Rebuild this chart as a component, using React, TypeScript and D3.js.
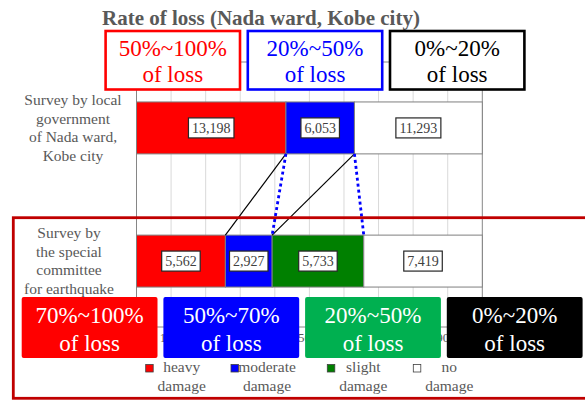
import React, { useRef, useEffect } from "react";
import * as d3 from "d3";

// chart data
const categories = ["local", "committee"];
const categoryLines = [
    ["Survey by local", "government", "of Nada ward,", "Kobe city"],
    ["Survey by", "the special", "committee", "for earthquake"],
];
const heavy = [13198, 5562];
const moderate = [6053, 2927];
const slight = [0, 5733];
const noDamage = [11293, 7419];
const seriesKeys = ["heavy", "moderate", "slight", "none"];
const seriesColors = ["#ff0000", "#0000ff", "#008000", "#ffffff"];
const legendLines = [
    ["heavy", "damage"],
    ["moderate", "damage"],
    ["slight", "damage"],
    ["no", "damage"],
];
const tickValues = [0, 0.1, 0.2, 0.3, 0.4, 0.5, 0.6, 0.7, 0.8, 0.9, 1];
const topBoxLabels = ["50%~100%", "20%~50%", "0%~20%"];
const topBoxColors = ["#ff0000", "#0000ff", "#000000"];
const bottomBoxLabels = ["70%~100%", "50%~70%", "20%~50%", "0%~20%"];
const bottomBoxColors = ["#ff0000", "#0000ff", "#00b050", "#000000"];

const FONT = "Liberation Serif, serif";

function App() {
    const ref = useRef(null);

    useEffect(() => {
        document.body.style.margin = "0";
        draw();
    }, []);

    const draw = () => {
        const svg = d3.select(ref.current);
        svg.selectAll("*").remove();

        let svgWidth = 585;
        let svgHeight = 400;
        let margin = { top: 62, right: 102.7, bottom: 73, left: 136.5 };
        let width = svgWidth - margin.left - margin.right;
        let height = svgHeight - margin.top - margin.bottom;

        let rows = categories.map((c, i) => ({
            cat: c,
            heavy: heavy[i],
            moderate: moderate[i],
            slight: slight[i],
            none: noDamage[i],
        }));
        let stacked = d3.stack().keys(seriesKeys).offset(d3.stackOffsetExpand)(rows);

        let x = d3.scaleLinear().domain([0, 1]).range([0, width]);
        let y = d3
            .scaleBand()
            .domain(categories)
            .range([0, height])
            .paddingInner(0.61)
            .paddingOuter(0.3);

        svg.append("rect")
            .attr("width", svgWidth)
            .attr("height", svgHeight)
            .attr("fill", "#ffffff");

        // title
        svg.append("text")
            .text("Rate of loss (Nada ward, Kobe city)")
            .attr("x", 261)
            .attr("y", 25)
            .attr("text-anchor", "middle")
            .attr("font-family", FONT)
            .attr("font-weight", "bold")
            .attr("font-size", "21px")
            .attr("fill", "#595959");

        let g = svg
            .append("g")
            .attr("transform", "translate(" + margin.left + "," + margin.top + ")");

        // gridlines
        g.append("g")
            .selectAll("line")
            .data(tickValues.slice(1, -1))
            .enter()
            .append("line")
            .attr("x1", (d) => x(d))
            .attr("x2", (d) => x(d))
            .attr("y1", 0)
            .attr("y2", height)
            .attr("stroke", "#d9d9d9")
            .attr("stroke-width", 1);

        g.append("rect")
            .attr("width", width)
            .attr("height", height)
            .attr("fill", "none")
            .attr("stroke", "#868686")
            .attr("stroke-width", 1);

        // x axis
        let xAxis = g
            .append("g")
            .attr("transform", "translate(0," + height + ")")
            .call(d3.axisBottom(x).tickValues(tickValues).tickFormat(d3.format(".0%")).tickSize(0).tickPadding(6));
        xAxis.select(".domain").remove();
        xAxis.selectAll("text")
            .attr("font-family", FONT)
            .attr("font-size", "13px")
            .attr("fill", "#595959");

        // category labels
        categoryLines.forEach((lines, i) => {
            let cy = y(categories[i]) + y.bandwidth() / 2;
            let t = svg
                .append("text")
                .attr("text-anchor", "middle")
                .attr("font-family", FONT)
                .attr("font-size", "15.5px")
                .attr("fill", "#595959");
            lines.forEach((line, j) => {
                t.append("tspan")
                    .attr("x", i === 0 ? 73 : 69)
                    .attr("y", margin.top + cy + (j - (lines.length - 1) / 2) * 18.5 + 5)
                    .text(line);
            });
        });

        // bars
        let layers = g
            .selectAll(".layer")
            .data(stacked)
            .enter()
            .append("g")
            .attr("fill", (d, i) => seriesColors[i]);

        layers
            .selectAll("rect")
            .data((d) => d.filter((s) => s[1] - s[0] > 0))
            .enter()
            .append("rect")
            .attr("x", (d) => x(d[0]))
            .attr("y", (d) => y(d.data.cat))
            .attr("width", (d) => x(d[1]) - x(d[0]))
            .attr("height", y.bandwidth())
            .attr("stroke", "#7f7f7f")
            .attr("stroke-width", 1);

        // connector lines between the two surveys
        let edge = (row, k) => x(stacked[k][row][1]);
        let y1 = y(categories[0]) + y.bandwidth();
        let y2 = y(categories[1]);
        let solid = [
            [edge(0, 0), edge(1, 0)],
            [edge(0, 1), edge(1, 1)],
        ];
        let dotted = [
            [edge(0, 0), edge(1, 1)],
            [edge(0, 1), edge(1, 2)],
        ];
        g.selectAll(".solid")
            .data(solid)
            .enter()
            .append("line")
            .attr("x1", (d) => d[0])
            .attr("x2", (d) => d[1])
            .attr("y1", y1)
            .attr("y2", y2)
            .attr("stroke", "#000000")
            .attr("stroke-width", 1.2);
        g.selectAll(".dotted")
            .data(dotted)
            .enter()
            .append("line")
            .attr("x1", (d) => d[0])
            .attr("x2", (d) => d[1])
            .attr("y1", y1)
            .attr("y2", y2)
            .attr("stroke", "#0000ff")
            .attr("stroke-width", 2.8)
            .attr("stroke-dasharray", "3,3");

        // value labels
        stacked.forEach((layer) => {
            layer.forEach((s) => {
                let v = s.data[layer.key];
                if (!v) return;
                let cx = x((s[0] + s[1]) / 2);
                let cy = y(s.data.cat) + y.bandwidth() / 2;
                let lg = g.append("g");
                let box = lg.append("rect");
                let t = lg
                    .append("text")
                    .text(d3.format(",")(v))
                    .attr("x", cx)
                    .attr("y", cy + 5)
                    .attr("text-anchor", "middle")
                    .attr("font-family", FONT)
                    .attr("font-size", "14px")
                    .attr("fill", "#404040");
                let w = t.node().getComputedTextLength();
                box.attr("x", cx - w / 2 - 3.5)
                    .attr("y", cy - 10)
                    .attr("width", w + 7)
                    .attr("height", 20)
                    .attr("fill", "#ffffff")
                    .attr("stroke", "#262626")
                    .attr("stroke-width", 1.2);
            });
        });

        // big frame around the committee survey
        svg.append("rect")
            .attr("x", 13.3)
            .attr("y", 217.7)
            .attr("width", 600)
            .attr("height", 180.6)
            .attr("fill", "none")
            .attr("stroke", "#c00000")
            .attr("stroke-width", 2.8);

        // top outlined boxes
        topBoxLabels.forEach((label, i) => {
            let bx = 105.6 + i * 142.2;
            svg.append("rect")
                .attr("x", bx)
                .attr("y", 31)
                .attr("width", 134.4)
                .attr("height", 58.5)
                .attr("fill", "#ffffff")
                .attr("stroke", topBoxColors[i])
                .attr("stroke-width", 2.6);
            [label, "of loss"].forEach((line, j) => {
                svg.append("text")
                    .text(line)
                    .attr("x", bx + 67.2)
                    .attr("y", 55.5 + j * 26.5)
                    .attr("text-anchor", "middle")
                    .attr("font-family", FONT)
                    .attr("font-size", "23px")
                    .attr("fill", topBoxColors[i]);
            });
        });

        // bottom filled boxes
        bottomBoxLabels.forEach((label, i) => {
            let bx = 21.7 + i * 141.7;
            svg.append("rect")
                .attr("x", bx)
                .attr("y", 297)
                .attr("width", 135.8)
                .attr("height", 61)
                .attr("rx", 2)
                .attr("fill", bottomBoxColors[i]);
            [label, "of loss"].forEach((line, j) => {
                svg.append("text")
                    .text(line)
                    .attr("x", bx + 67.9)
                    .attr("y", 323 + j * 28)
                    .attr("text-anchor", "middle")
                    .attr("font-family", FONT)
                    .attr("font-size", "23px")
                    .attr("fill", "#ffffff");
            });
        });

        // legend
        let legendX = [145.7, 231, 327.3, 413.3];
        legendLines.forEach((lines, i) => {
            svg.append("rect")
                .attr("x", legendX[i])
                .attr("y", 364.5)
                .attr("width", 7.5)
                .attr("height", 7.5)
                .attr("fill", seriesColors[i])
                .attr("stroke", "#404040")
                .attr("stroke-width", 0.8);
            lines.forEach((line, j) => {
                svg.append("text")
                    .text(line)
                    .attr("x", legendX[i] + 36)
                    .attr("y", 372 + j * 18.5)
                    .attr("text-anchor", "middle")
                    .attr("font-family", FONT)
                    .attr("font-size", "15.5px")
                    .attr("fill", "#595959");
            });
        });
    };

    return (
        <div className="chart">
            <svg ref={ref} width={585} height={400} style={{ display: "block" }}></svg>
        </div>
    );
}

export default App;
